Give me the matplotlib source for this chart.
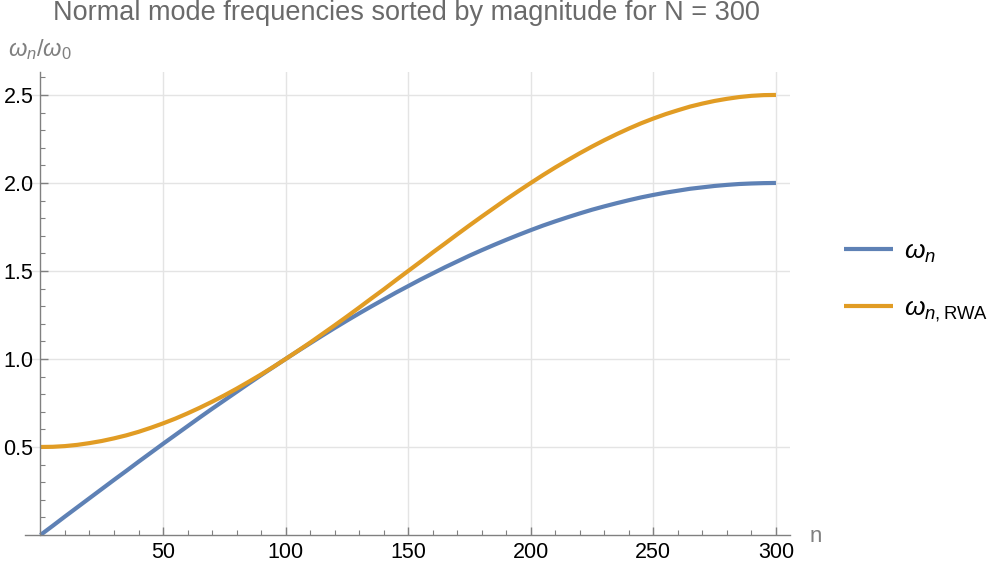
import matplotlib.pyplot as plt
from matplotlib.ticker import MultipleLocator

plt.rcParams['font.family'] = ['Liberation Sans', 'DejaVu Sans']
plt.rcParams['mathtext.fontset'] = 'custom'
plt.rcParams['mathtext.rm'] = 'Liberation Sans'
plt.rcParams['mathtext.it'] = 'Liberation Sans:italic'
plt.rcParams['mathtext.bf'] = 'Liberation Sans:bold'

# values, every 5 modes
n = list(range(0, 301, 5))
omega_n = [0.000, 0.052, 0.105, 0.157, 0.209, 0.261, 0.313, 0.364, 0.416, 0.467,
           0.518, 0.568, 0.618, 0.668, 0.717, 0.765, 0.813, 0.861, 0.908, 0.954,
           1.000, 1.045, 1.089, 1.133, 1.176, 1.218, 1.259, 1.299, 1.338, 1.377,
           1.414, 1.451, 1.486, 1.521, 1.554, 1.587, 1.618, 1.648, 1.677, 1.705,
           1.732, 1.758, 1.782, 1.805, 1.827, 1.848, 1.867, 1.885, 1.902, 1.918,
           1.932, 1.945, 1.956, 1.967, 1.975, 1.983, 1.989, 1.994, 1.997, 1.999,
           2.000]
omega_rwa = [0.500, 0.501, 0.505, 0.512, 0.522, 0.534, 0.549, 0.566, 0.586, 0.609,
             0.634, 0.661, 0.691, 0.723, 0.757, 0.793, 0.831, 0.871, 0.912, 0.955,
             1.000, 1.046, 1.093, 1.142, 1.191, 1.241, 1.292, 1.344, 1.395, 1.448,
             1.500, 1.552, 1.605, 1.656, 1.708, 1.759, 1.809, 1.858, 1.907, 1.954,
             2.000, 2.045, 2.088, 2.129, 2.169, 2.207, 2.243, 2.277, 2.309, 2.339,
             2.366, 2.391, 2.413, 2.434, 2.451, 2.466, 2.478, 2.488, 2.495, 2.499,
             2.500]

blue = '#5E81B5'
orange = '#E19C24'
gray = '#808080'

fig = plt.figure(figsize=(9.96, 5.76), dpi=100)
ax = fig.add_axes([0.0251, 0.0712, 0.768, 0.8043])

ax.plot(n, omega_n, color=blue, lw=3, label=r'$\omega_n$', solid_capstyle='butt')
ax.plot(n, omega_rwa, color=orange, lw=3, label=r'$\omega_{n,\mathrm{RWA}}$', solid_capstyle='butt')

ax.set_xlim(-6.3, 305.7)
ax.set_ylim(0, 2.632)

for s in ['top', 'right']:
    ax.spines[s].set_visible(False)
ax.spines['left'].set_position(('data', 0))
ax.spines['left'].set_bounds(0, 2.632)
for s in ['left', 'bottom']:
    ax.spines[s].set_color(gray)
    ax.spines[s].set_linewidth(1)

ax.set_xticks([50, 100, 150, 200, 250, 300])
ax.set_yticks([0.5, 1.0, 1.5, 2.0, 2.5])
ax.set_yticklabels(['0.5', '1.0', '1.5', '2.0', '2.5'])
ax.xaxis.set_minor_locator(MultipleLocator(10))
ax.yaxis.set_minor_locator(MultipleLocator(0.1))
ax.tick_params(which='both', direction='in', color=gray, labelsize=15.5, labelcolor='black')
ax.tick_params(which='major', length=6, width=1, pad=5)
ax.tick_params(which='minor', length=3.5, width=0.8)

ax.grid(True, which='major', color='#e4e4e4', lw=1)
ax.set_axisbelow(True)

fig.text(810 / 996, 1 - 536 / 576, 'n', color=gray, fontsize=16, ha='left', va='center')
fig.text(8 / 996, 1 - 56 / 576, r'$\omega_n/\omega_0$', color=gray, fontsize=17, ha='left', va='baseline')
fig.text(53 / 996, 1 - 20 / 576, 'Normal mode frequencies sorted by magnitude for N = 300',
         color='#6a6a6a', fontsize=19.5, ha='left', va='baseline')

fig.legend(loc='center left', bbox_to_anchor=(820 / 996, 1 - 282 / 576), frameon=False,
           fontsize=19, handlelength=1.85, handletextpad=0.45, labelspacing=1.2)

fig.savefig('out.png', dpi=100)
